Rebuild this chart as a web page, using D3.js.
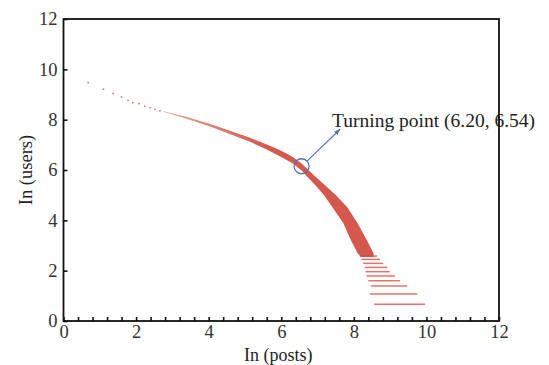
<!DOCTYPE html>
<html>
<head>
<meta charset="utf-8">
<script src="https://cdn.jsdelivr.net/npm/d3@7"></script>
<style>
  body { margin: 0; background: #fff; }
  svg { display: block; }
</style>
</head>
<body>
<div id="chart"></div>
<script>
// axis ticks
const xMajorTicks = [0, 2, 4, 6, 8, 10, 12];
const yMajorTicks = [0, 2, 4, 6, 8, 10, 12];
const xMinorStep = 0.4;

// sparse points at the head of the curve (ln posts, ln users)
const sparseX = [0.68, 1.10, 1.37, 1.60, 1.78, 1.91, 2.08, 2.24, 2.38, 2.52, 2.66];
const sparseY = [9.47, 9.21, 9.04, 8.90, 8.77, 8.68, 8.64, 8.54, 8.48, 8.41, 8.35];

// dense band: outline (upper/right edge, then lower/left edge back)
const bandX = [2.75, 3.35, 4.04, 4.67, 5.14, 5.60, 5.96, 6.32, 6.57, 6.90, 7.23, 7.51, 7.82, 8.10, 8.36, 8.54, 8.55,
               8.20, 8.10, 7.92, 7.71, 7.41, 7.18, 6.96, 6.68, 6.57, 6.32, 5.96, 5.60, 5.14, 4.67, 4.04, 3.35, 2.75];
const bandY = [8.33, 8.13, 7.83, 7.52, 7.28, 7.01, 6.79, 6.52, 6.25, 5.79, 5.36, 5.00, 4.52, 3.89, 3.21, 2.70, 2.54,
               2.54, 2.70, 3.21, 3.89, 4.52, 5.00, 5.36, 5.79, 5.97, 6.26, 6.55, 6.81, 7.12, 7.38, 7.73, 8.06, 8.31];

// horizontal streaks at low user counts
const streakY     = [0.67, 1.07, 1.39, 1.60, 1.79, 1.96, 2.13, 2.29, 2.45, 2.58];
const streakStart = [8.56, 8.44, 8.47, 8.40, 8.35, 8.32, 8.30, 8.26, 8.21, 8.17];
const streakEnd   = [9.96, 9.75, 9.47, 9.27, 9.13, 8.99, 8.92, 8.81, 8.72, 8.64];

// annotation
const turnPoint = [6.56, 6.15];
const arrowTip = [7.62, 7.62];
const turnLabelPos = [7.40, 7.70];
const turnLabel = "Turning point (6.20, 6.54)";
const xLabel = "In (posts)";
const yLabel = "In (users)";

const config = {
  width: 549,
  height: 365,
  margin: {top: 19, right: 50, bottom: 44, left: 63.5},
  font: "'Liberation Serif', 'Times New Roman', serif",
  red: "#d0463a",
  lightRed: "#e9958b",
  streak: "#dc5a50",
  blue: "#4f72b8"
};

const W = config.width, H = config.height, m = config.margin;

const x = d3.scaleLinear([0, 12], [m.left, W - m.right]);
const y = d3.scaleLinear([0, 12], [H - m.bottom, m.top]);

const svg = d3.select("#chart").append("svg")
  .attr("width", W)
  .attr("height", H)
  .attr("viewBox", [0, 0, W, H]);

const defs = svg.append("defs");

const grad = defs.append("linearGradient")
  .attr("id", "bandGrad")
  .attr("gradientUnits", "userSpaceOnUse")
  .attr("x1", x(2.75)).attr("x2", x(5.6))
  .attr("y1", 0).attr("y2", 0);
grad.append("stop").attr("offset", 0).attr("stop-color", config.lightRed);
grad.append("stop").attr("offset", 1).attr("stop-color", config.red);

defs.append("filter")
  .attr("id", "soft")
  .append("feGaussianBlur")
  .attr("stdDeviation", 0.5);

// data: streaks
svg.append("g")
  .attr("stroke", config.streak)
  .attr("stroke-width", 1.5)
  .attr("stroke-opacity", 0.85)
  .selectAll("line")
  .data(d3.range(streakY.length))
  .join("line")
  .attr("x1", i => x(streakStart[i]))
  .attr("x2", i => x(streakEnd[i]))
  .attr("y1", i => y(streakY[i]))
  .attr("y2", i => y(streakY[i]));

// data: dense band
svg.append("path")
  .datum(d3.range(bandX.length))
  .attr("fill", "url(#bandGrad)")
  .attr("fill-opacity", 0.9)
  .attr("filter", "url(#soft)")
  .attr("d", d3.line().x(i => x(bandX[i])).y(i => y(bandY[i])).curve(d3.curveLinearClosed));

// data: sparse head points
svg.append("g")
  .attr("fill", "#e07468")
  .selectAll("circle")
  .data(d3.range(sparseX.length))
  .join("circle")
  .attr("cx", i => x(sparseX[i]))
  .attr("cy", i => y(sparseY[i]))
  .attr("r", 0.9);

// axes
const xMinor = d3.range(0, 12 + 1e-6, xMinorStep);

svg.append("g")
  .attr("transform", `translate(0,${H - m.bottom})`)
  .call(d3.axisBottom(x).tickValues(xMinor).tickSize(-4).tickFormat(""))
  .call(g => g.select(".domain").remove())
  .call(g => g.selectAll(".tick line").attr("stroke", "#111").attr("stroke-width", 1.6));

svg.append("g")
  .attr("transform", `translate(0,${H - m.bottom})`)
  .call(d3.axisBottom(x).tickValues(xMajorTicks).tickSize(0).tickPadding(4).tickFormat(d3.format("d")))
  .call(g => g.select(".domain").remove())
  .call(g => g.selectAll(".tick text")
    .style("font-family", config.font)
    .style("font-size", "18.5px")
    .attr("fill", "#333"));

svg.append("g")
  .attr("transform", `translate(${m.left},0)`)
  .call(d3.axisLeft(y).tickValues(yMajorTicks).tickSize(-4).tickPadding(6).tickFormat(d3.format("d")))
  .call(g => g.select(".domain").remove())
  .call(g => g.selectAll(".tick line").attr("stroke", "#111").attr("stroke-width", 1.6))
  .call(g => g.selectAll(".tick text")
    .style("font-family", config.font)
    .style("font-size", "18.5px")
    .attr("fill", "#333"));

// annotation label (drawn before frame, frame crosses it)
svg.append("text")
  .attr("x", x(turnLabelPos[0]))
  .attr("y", y(turnLabelPos[1]))
  .style("font-family", config.font)
  .style("font-size", "19.5px")
  .attr("fill", "#222")
  .text(turnLabel);

// frame
svg.append("rect")
  .attr("x", x(0))
  .attr("y", y(12))
  .attr("width", x(12) - x(0))
  .attr("height", y(0) - y(12))
  .attr("fill", "none")
  .attr("stroke", "#111")
  .attr("stroke-width", 1.8);

// turning point circle and arrow
const cx = x(turnPoint[0]), cy = y(turnPoint[1]);
const r = 7.5;
const tx = x(arrowTip[0]), ty = y(arrowTip[1]);
const ang = Math.atan2(ty - cy, tx - cx);

defs.append("marker")
  .attr("id", "arrow")
  .attr("viewBox", "0 0 10 10")
  .attr("refX", 9)
  .attr("refY", 5)
  .attr("markerWidth", 6)
  .attr("markerHeight", 6)
  .attr("orient", "auto")
  .append("path")
  .attr("d", "M0,1.5L10,5L0,8.5Z")
  .attr("fill", config.blue);

svg.append("circle")
  .attr("cx", cx)
  .attr("cy", cy)
  .attr("r", r)
  .attr("fill", "none")
  .attr("stroke", config.blue)
  .attr("stroke-width", 1.3);

svg.append("line")
  .attr("x1", cx + r * Math.cos(ang))
  .attr("y1", cy + r * Math.sin(ang))
  .attr("x2", tx)
  .attr("y2", ty)
  .attr("stroke", config.blue)
  .attr("stroke-width", 1.1)
  .attr("marker-end", "url(#arrow)");

// axis titles
svg.append("text")
  .attr("x", (x(0) + x(12)) / 2 - 3)
  .attr("y", H - 4)
  .attr("text-anchor", "middle")
  .style("font-family", config.font)
  .style("font-size", "18px")
  .attr("fill", "#222")
  .text(xLabel);

svg.append("text")
  .attr("transform", `translate(32,${y(6)}) rotate(-90)`)
  .attr("text-anchor", "middle")
  .style("font-family", config.font)
  .style("font-size", "18.5px")
  .attr("fill", "#222")
  .text(yLabel);
</script>
</body>
</html>
